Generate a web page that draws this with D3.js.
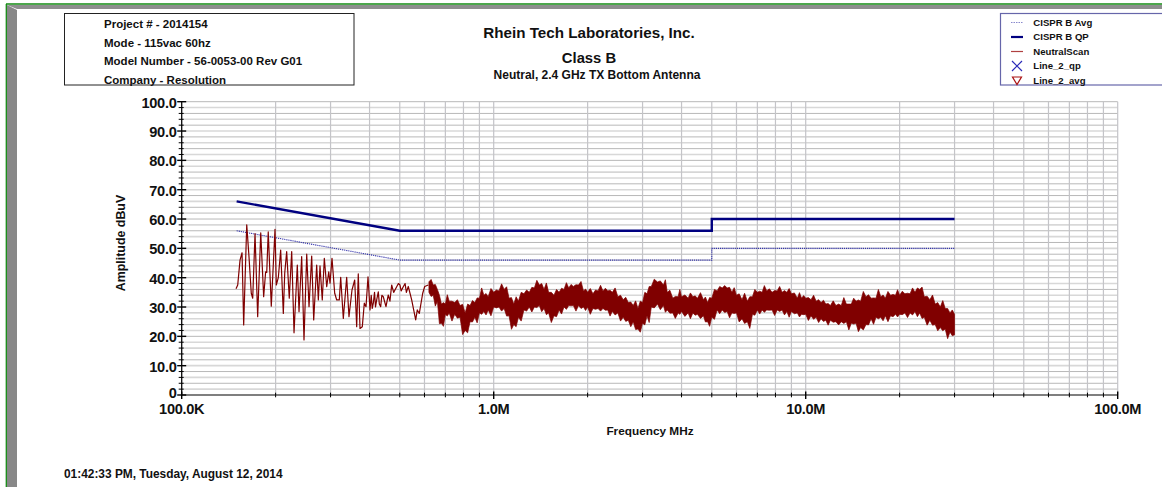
<!DOCTYPE html>
<html><head><meta charset="utf-8">
<script src="https://cdn.jsdelivr.net/npm/d3@7"></script>
<style>
html,body{margin:0;padding:0;background:#fff;overflow:hidden}
svg{display:block;font-family:"Liberation Sans",Arial,sans-serif;font-weight:bold}
</style></head><body>
<svg id="c" width="1162" height="487"></svg>
<script>
// ---------- data ----------
const infoLines = ["Project # - 2014154","Mode - 115vac 60hz","Model Number - 56-0053-00 Rev G01","Company - Resolution"];
const titleLines = ["Rhein Tech Laboratories, Inc.","Class B"];
const subtitle = "Neutral, 2.4 GHz TX Bottom Antenna";
const timestamp = "01:42:33 PM, Tuesday, August 12, 2014";
const legendNames = ["CISPR B Avg","CISPR B QP","NeutralScan","Line_2_qp","Line_2_avg"];
const xTickValues = [0.1, 1, 10, 100];
const xTickLabels = ["100.0K","1.0M","10.0M","100.0M"];
const yTickValues = [0,10,20,30,40,50,60,70,80,90,100];
const yTickLabels = ["0","10.0","20.0","30.0","40.0","50.0","60.0","70.0","80.0","90.0","100.0"];

// limit lines (MHz, dBuV)
const limitFreq = [0.15, 0.5, 5, 5, 30];
const qpLimit  = [66, 56, 56, 60, 60];
const avgLimit = [56, 46, 46, 50, 50];

// neutral scan, low-frequency part (MHz, dBuV)
const lowScanFreq = [0.1493,0.1512,0.1538,0.1561,0.158,0.1616,0.1643,0.1671,0.1689,0.1718,0.1752,0.1792,0.1831,0.1858,0.1873,0.1894,0.1937,0.1991,0.201,0.204,0.2076,0.2117,0.2139,0.217,0.2212,0.2252,0.2291,0.2347,0.2377,0.2424,0.2466,0.2516,0.2559,0.261,0.2649,0.2708,0.2741,0.2775,0.2822,0.2865,0.2916,0.296,0.2988,0.3032,0.3093,0.3139,0.32,0.3233,0.3296,0.3379,0.3437,0.3514,0.3585,0.3638,0.3681,0.3728,0.3792,0.3848,0.3897,0.3955,0.4014,0.405,0.408,0.4113,0.415,0.418,0.4217,0.4267,0.430,0.4343,0.438,0.4427,0.4516,0.4593,0.465,0.471,0.478,0.4887,0.495,0.5008,0.505,0.5131,0.52,0.525,0.5324,0.5459,0.5623,0.569,0.5775,0.5922,0.601,0.6171];
const lowScanVals = [36.2,37.5,46,48.5,23.9,58,47.2,34.7,33,55,26.7,55.3,33.5,42,41.8,55.6,30.3,56.5,37.5,40,49.4,27.8,41.5,48.9,33,48.9,21.2,44.3,28.4,47.2,18.8,48,30.1,47.4,25.6,44.3,32.4,44,32.4,46.6,36.9,42,38.1,46.6,34.7,32.4,32.4,40.1,26.1,40.1,26.7,35.8,39.2,23.3,41.3,22.7,23.3,31.3,30.1,40.3,29,34,29.5,31.3,35,30,32.4,35.2,31,30.1,34,33.5,30.1,34.1,32,37.5,35,36.9,38,37.5,35.5,36.9,38,35,37,32.4,25.6,29,27.8,34.7,37,37.5];

// neutral scan, dense part: top / bottom of the noisy band (MHz, dBuV)
const bandFreq = [0.62,0.63,0.64,0.65,0.66,0.67,0.68,0.69,0.70,0.71,0.72,0.735,0.75,0.765,0.78,0.795,0.81,0.825,0.84,0.855,0.87,0.885,0.90,0.915,0.93,0.945,0.96,0.98,1.0,1.02,1.04,1.06,1.08,1.10,1.12,1.14,1.16,1.18,1.2,1.225,1.25,1.275,1.3,1.325,1.35,1.375,1.4,1.425,1.45,1.475,1.5,1.53,1.56,1.59,1.62,1.65,1.68,1.71,1.74,1.77,1.8,1.835,1.87,1.905,1.94,1.97,2.0,2.04,2.08,2.12,2.16,2.2,2.24,2.28,2.32,2.36,2.4,2.45,2.5,2.55,2.6,2.65,2.7,2.75,2.8,2.85,2.9,2.95,3.0,3.05,3.1,3.15,3.2,3.27,3.35,3.42,3.5,3.55,3.6,3.67,3.75,3.82,3.9,3.95,4.0,4.1,4.2,4.27,4.35,4.42,4.5,4.6,4.7,4.77,4.85,4.92,5.0,5.1,5.2,5.3,5.4,5.5,5.6,5.7,5.8,5.9,6.0,6.12,6.25,6.37,6.5,6.62,6.75,6.87,7.0,7.12,7.25,7.37,7.5,7.65,7.8,7.95,8.1,8.25,8.4,8.55,8.7,8.85,9.0,9.2,9.4,9.55,9.7,9.85,10,10.2,10.4,10.6,10.8,11.0,11.2,11.4,11.6,11.8,12,12.25,12.5,12.75,13,13.25,13.5,13.75,14,14.25,14.5,14.75,15,15.3,15.6,15.9,16.2,16.5,16.8,17.1,17.4,17.7,18,18.35,18.7,19.05,19.4,19.7,20,20.4,20.8,21.2,21.6,22.0,22.4,22.8,23.2,23.6,24,24.5,25,25.5,26,26.5,27,27.5,28,28.5,29,29.5,30];
const bandHi = [38.6,39.4,37.5,37.7,36,34,31,31.5,31,34.2,32,32,31.5,32.5,30.5,30.9,28,31,30.5,32.2,31.5,33.1,33,36.5,34,34.6,33.5,36.3,35,35.8,35.5,37.9,36,36.9,33,33.2,31,33.5,32,35,34.5,35.8,35,36.7,36.5,39.1,37.5,38,36,38.2,35,35,34,36,35,36.4,36,38.3,36.5,37.7,37,37.6,37.5,38.7,35.5,36.1,35,36.3,34.5,35.8,35.5,37.4,35.5,36.4,35.5,35.7,35,36.5,33.5,34,32.5,33.3,31.5,31.7,30.5,32.1,29.5,32,31.5,35,34.5,37,37,39.5,38.5,38.9,37.5,39.3,35,35.7,33,33.6,33.5,36,33.5,34.1,33,34.8,33.5,33.8,33,34.9,32.5,33.4,31.5,33.2,33,36,35.5,37,36.5,37.3,36.5,36.7,35,36.6,34,34.5,32.5,34.7,32,33.5,33.5,36,35,35.4,35,37.3,35.5,36.2,35,35.6,35.5,37,35,35.6,35,36.3,34.5,34.8,33,34.9,33,33.9,33,33.2,32.5,34,32,32.5,31.5,32.3,31,31.2,30.5,32.1,30.5,31,30.5,33.2,31,31,31,33,32,32.4,32,35.3,33.5,34.2,33,33.1,33,36,33.5,34.1,33,35.3,34,34.3,34,35.9,34,35.4,34.5,34.7,34.5,36.5,35,36.5,36,36.8,33.5,33.7,32.5,34.1,31,31.5,30,32.2,29.5,29.5,28,29,27.5];
const bandLo = [35,33.6,34,30.3,32,24.3,24.5,23.4,27.5,26.9,28,25.2,27.5,26.2,26.5,20.6,22,21.2,25,24.9,26.5,24.6,28,27.5,28.5,27.3,29,27,30,29.7,30,28.6,29.5,26.9,27,22.4,24,23.3,26.5,25.2,29,28.6,30,28.3,30,29.8,30.5,28.4,29.5,27.4,28,24.7,27,26.7,29,27.6,30,29.2,30.5,30.4,30.5,28.6,30.5,29.5,30,28.8,30,27.5,29.5,29.2,29.5,28.6,29.5,28.9,29,26.9,28.5,27.3,28,25.2,26.5,25.1,25.5,23.3,25,22.3,22.5,21.4,24.5,23.9,27,24.7,30,29.7,31,29.1,30.5,28.2,29,27.9,28,26.1,28,27.5,28.5,26.8,28,26,28,27.2,27.5,26.1,27,24.9,25,23.4,26.5,25.8,29,27.7,29,28.1,28.5,26.3,28,27.8,28,24.9,26,24.4,25,22.7,27.5,27.2,29,27.6,29,28.2,29,28.9,29,27.1,29,28.5,29,27.3,28.5,26.5,28.5,27.7,28,26.6,27.5,27.4,27.5,25.4,27,25.8,26.5,24.7,26,25.1,25.5,23.8,25.5,24.8,25,23.9,25,24.4,25,22.2,24.5,24.2,24.5,21.6,23,22.2,24,23.9,26,24.1,26.5,26,26.5,25.3,27,25,27,26.7,27.5,26.6,27.5,27.4,28,26.4,28,27.3,28.5,26.7,28,26.1,26.5,23.8,25.5,23.8,24,21.9,23,21.9,22.5,19.2,21.5,20.2,20.5];

// ---------- drawing ----------
const svg = d3.select("#c");
const W = 1162, H = 487;
const x = d3.scaleLog().domain([0.1, 100]).range([181.7, 1117.7]);
const y = d3.scaleLinear().domain([0, 100]).range([395, 101.7]);
const X0 = x.range()[0], X1 = x.range()[1], Y0 = y.range()[0], Y1 = y.range()[1];

// frame
svg.append("polygon").attr("points", `7,5 ${W},5 ${W},9 17,9`).attr("fill", "#8e8e8e");
svg.append("polygon").attr("points", `7,5 17,10 17,${H} 7,${H}`).attr("fill", "#888");
svg.append("line").attr("x1", 6).attr("x2", W).attr("y1", 4).attr("y2", 4).attr("stroke", "#118811").attr("stroke-width", 1.3);
svg.append("line").attr("x1", 6.3).attr("x2", 6.3).attr("y1", 4).attr("y2", H).attr("stroke", "#118811").attr("stroke-width", 1.3);

// info box
svg.append("rect").attr("x", 64.5).attr("y", 13.5).attr("width", 289.5).attr("height", 71.5)
  .attr("fill", "none").attr("stroke", "#222").attr("stroke-width", 1);
infoLines.forEach((t, i) => svg.append("text").attr("x", 104).attr("y", 28 + i * 18.7)
  .attr("font-size", 11.5).attr("fill", "#111").text(t));

// titles
svg.append("text").attr("x", 589).attr("y", 38.3).attr("text-anchor", "middle").attr("font-size", 15.2).attr("fill", "#111").text(titleLines[0]);
svg.append("text").attr("x", 589).attr("y", 63.3).attr("text-anchor", "middle").attr("font-size", 14.8).attr("fill", "#111").text(titleLines[1]);
svg.append("text").attr("x", 597).attr("y", 79).attr("text-anchor", "middle").attr("font-size", 12).attr("fill", "#111").text(subtitle);

// legend
svg.append("rect").attr("x", 1000.5).attr("y", 13.5).attr("width", 200).attr("height", 71.5)
  .attr("fill", "#fff").attr("stroke", "#6666aa").attr("stroke-width", 1.2);
const lg = svg.append("g");
legendNames.forEach((n, i) => {
  const cy = 22.5 + i * 14.5;
  lg.append("text").attr("x", 1033.3).attr("y", cy + 3.3).attr("font-size", 9.6).attr("fill", "#111").text(n);
  if (i === 0) lg.append("line").attr("x1", 1011).attr("x2", 1023).attr("y1", cy).attr("y2", cy).attr("stroke", "#8888cc").attr("stroke-width", 1.2).attr("stroke-dasharray", "1.5,1");
  if (i === 1) lg.append("line").attr("x1", 1011).attr("x2", 1023).attr("y1", cy).attr("y2", cy).attr("stroke", "#000080").attr("stroke-width", 2.2);
  if (i === 2) lg.append("line").attr("x1", 1011).attr("x2", 1023).attr("y1", cy).attr("y2", cy).attr("stroke", "#b04040").attr("stroke-width", 1.2);
  if (i === 3) lg.append("path").attr("d", `M1012,${cy-5}L1022,${cy+5}M1012,${cy+5}L1022,${cy-5}`).attr("stroke", "#2a2ab8").attr("stroke-width", 1.2).attr("fill", "none");
  if (i === 4) lg.append("path").attr("d", `M1012.5,${cy-3.5}L1021.5,${cy-3.5}L1017,${cy+4}Z`).attr("stroke", "#aa1111").attr("stroke-width", 1.2).attr("fill", "none");
});

// gridlines
const grid = svg.append("g");
d3.range(2, 101, 2).forEach(v => {
  const dark = v % 4 === 0;
  grid.append("line").attr("x1", X0).attr("x2", X1).attr("y1", y(v)).attr("y2", y(v))
    .attr("stroke", dark ? "#b8b8b8" : "#d8d8d8").attr("stroke-width", dark ? 1 : 1.6);
});
x.ticks().forEach(f => {
  grid.append("line").attr("x1", x(f)).attr("x2", x(f)).attr("y1", Y1).attr("y2", Y0)
    .attr("stroke", "#c4c4c8").attr("stroke-width", 1.2);
});

// limits
const lineGen = d3.line().x(d => x(d[0])).y(d => y(d[1]));
svg.append("path").datum(limitFreq.map((f, i) => [f, avgLimit[i]])).attr("d", lineGen)
  .attr("fill", "none").attr("stroke", "#3333aa").attr("stroke-width", 1.1).attr("stroke-dasharray", "1.2,0.9");
svg.append("path").datum(limitFreq.map((f, i) => [f, qpLimit[i]])).attr("d", lineGen)
  .attr("fill", "none").attr("stroke", "#000080").attr("stroke-width", 2.4);

// scan
const scanColor = "#800000";
svg.append("path").datum(lowScanFreq.map((f, i) => [f, lowScanVals[i]])).attr("d", lineGen)
  .attr("fill", "none").attr("stroke", scanColor).attr("stroke-width", 1.2).attr("stroke-linejoin", "round");
const areaGen = d3.area().x(d => x(d.f)).y0(d => y(d.lo)).y1(d => y(d.hi));
const band = bandFreq.map((f, i) => ({f, lo: bandLo[i], hi: bandHi[i]}));
svg.append("path").datum(band).attr("d", areaGen).attr("fill", scanColor).attr("stroke", scanColor).attr("stroke-width", 0.7);

// axes
const ax = svg.append("g").attr("stroke", "#000");
ax.append("line").attr("x1", X0).attr("x2", X0).attr("y1", Y1).attr("y2", Y0).attr("stroke-width", 1.2);
ax.append("line").attr("x1", X0).attr("x2", X1).attr("y1", Y0).attr("y2", Y0).attr("stroke-width", 1.2);
d3.range(0, 101, 2).forEach(v => {
  const major = v % 10 === 0;
  ax.append("line").attr("x1", X0 - (major ? 4.5 : 3)).attr("x2", X0 + (major ? 4.5 : 2))
    .attr("y1", y(v)).attr("y2", y(v)).attr("stroke-width", major ? 1.4 : 1);
});
x.ticks().forEach(f => {
  const major = xTickValues.includes(f);
  ax.append("line").attr("x1", x(f)).attr("x2", x(f)).attr("y1", Y0 - (major ? 3.5 : 2.3)).attr("y2", Y0 + (major ? 4 : 2.3))
    .attr("stroke-width", major ? 1.4 : 1);
});
yTickValues.forEach((v, i) => svg.append("text").attr("x", 176.5).attr("y", y(v) + (v === 0 ? 3.2 : 6))
  .attr("text-anchor", "end").attr("font-size", 14.6).attr("fill", "#111").attr("letter-spacing", -0.3).text(yTickLabels[i]));
xTickValues.forEach((f, i) => svg.append("text").attr("x", x(f)).attr("y", 414.2)
  .attr("text-anchor", "middle").attr("font-size", 14.6).attr("fill", "#111").attr("letter-spacing", -0.3).text(xTickLabels[i]));

// axis titles
svg.append("text").attr("x", 650).attr("y", 435).attr("text-anchor", "middle").attr("font-size", 11.8).attr("fill", "#111").text("Frequency MHz");
svg.append("text").attr("transform", "translate(124.5,243) rotate(-90)").attr("text-anchor", "middle").attr("font-size", 12.4).attr("fill", "#111").text("Amplitude dBuV");

// timestamp
svg.append("text").attr("x", 64).attr("y", 478).attr("font-size", 11.9).attr("fill", "#111").text(timestamp);
</script>
</body></html>
